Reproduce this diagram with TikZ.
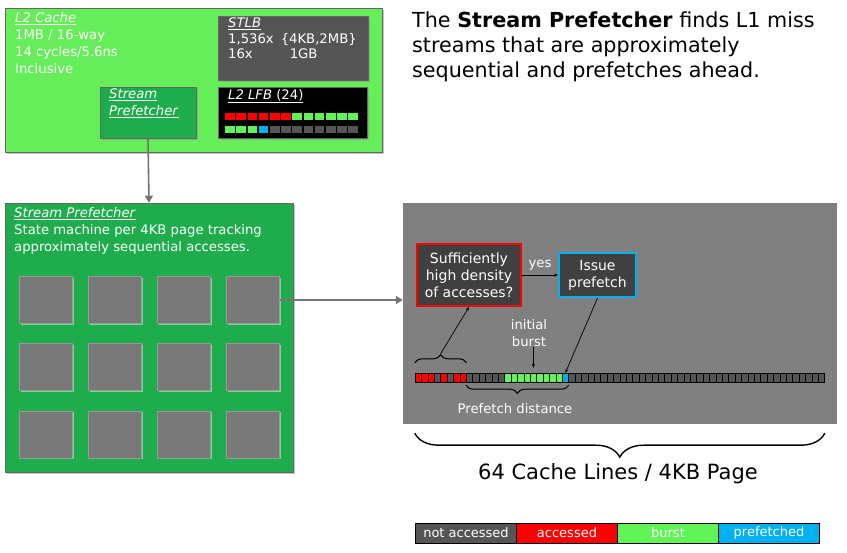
\documentclass[tikz,border=0pt]{standalone}
\usepackage{fontspec}
\setmainfont{DejaVu Sans}
\usetikzlibrary{arrows.meta,decorations.pathreplacing,shadows,calc}

\definecolor{lgreen}{RGB}{102,238,90}
\definecolor{dgreen}{RGB}{30,172,76}
\definecolor{boxgray}{RGB}{85,85,85}
\definecolor{sqgray}{RGB}{120,120,120}
\definecolor{panelgray}{RGB}{128,128,128}
\definecolor{darkbox}{RGB}{64,64,64}
\definecolor{acc}{RGB}{255,0,0}
\definecolor{burst}{RGB}{96,244,86}
\definecolor{pref}{RGB}{0,176,240}
\definecolor{notacc}{RGB}{85,85,85}

\begin{document}
\begin{tikzpicture}[
    x=1pt, y=-1pt,
    box/.style={draw=black!60, line width=0.6pt, inner sep=0pt, drop shadow={shadow xshift=2pt, shadow yshift=-2pt, fill=black!45}},
    sq/.style={draw=black!40, fill=sqgray, minimum width=53pt, minimum height=47pt, inner sep=0pt, drop shadow={shadow xshift=1.5pt, shadow yshift=-1.5pt, fill=white, opacity=.45}},
    wtxt/.style={text=white, font=\fontsize{13.2}{17}\selectfont, align=left, inner sep=0pt},
    cell/.style={draw=black, line width=0.4pt, minimum width=6.4pt, minimum height=9pt, inner sep=0pt},
    lfb/.style={minimum width=9.5pt, minimum height=7pt, inner sep=0pt},
    gar/.style={-{Triangle[length=7pt,width=8pt]}, line width=1.6pt, draw=panelgray!90!black},
    arr/.style={-{Stealth[length=4pt]}, line width=0.7pt},
    brc/.style={decorate, decoration={brace, amplitude=#1}, line width=1pt},
    leg/.style={draw=black, minimum width=101pt, minimum height=20pt, inner sep=0pt, text=white, font=\fontsize{13}{15}\selectfont}
]
\useasboundingbox[fill=white] (0,0) rectangle (847,553);

% L2 cache
\node[box, fill=lgreen, minimum width=377pt, minimum height=144pt] (l2) at (193.5,80) {};
\node[wtxt, anchor=north west] (l2txt) at (15,12) {\underline{\textit{L2 Cache}}\\1MB / 16-way\\14 cycles/5.6ns\\Inclusive};
\node[box, fill=boxgray, minimum width=150pt, minimum height=64pt] (stlb) at (293,48) {};
\node[wtxt, anchor=north west] (stlbtxt) at (228,18) {\underline{\textit{STLB}}\\
  \begin{tabular}{@{}l@{\hspace{7pt}}l@{}}1,536x & \{4KB,2MB\}\\[-2pt]16x & \hspace{9pt}1GB\end{tabular}};
\node[box, fill=dgreen, minimum width=96pt, minimum height=51pt] (spf) at (148,112.5) {};
\node[wtxt, anchor=north west] (spftxt) at (109,89) {\underline{\textit{Stream}}\\\underline{\textit{Prefetcher}}};
\node[box, fill=black, minimum width=149pt, minimum height=51pt] (lfbox) at (292.5,112.5) {};
\node[wtxt, anchor=north west] (lfbtxt) at (228,89) {\underline{\textit{L2 LFB} (24)}};
\foreach \i in {0,...,11}{
  \def\ca{acc}\ifnum\i>5 \def\ca{burst}\fi
  \def\cb{boxgray}\ifnum\i<3 \def\cb{burst}\fi\ifnum\i=3 \def\cb{pref}\fi
  \node[lfb, fill=\ca] (la\i) at ({230+11.2*\i},116.5) {};
  \node[lfb, fill=\cb] (lb\i) at ({230+11.2*\i},129.5) {};
}

% stream prefetcher
\node[box, fill=dgreen, minimum width=288pt, minimum height=269pt] (spb) at (149,337.5) {};
\node[wtxt, anchor=north west] (spbtxt) at (14,207) {\underline{\textit{Stream Prefetcher}}\\State machine per 4KB page tracking\\approximately sequential accesses.};
\foreach \r/\y in {1/300,2/367,3/434.5}
  \foreach \c/\x in {1/46,2/115,3/183.5,4/253}
    \node[sq] (sq\r\c) at (\x,\y) {};
\draw[gar] (spf.south) -- (spb.north);

% text
\node[anchor=north west, align=left, inner sep=0pt, font=\fontsize{20.7}{25}\selectfont] (intro) at (412,12)
  {The \textbf{Stream Prefetcher} finds L1 miss\\streams that are approximately\\sequential and prefetches ahead.};

% page panel
\node[fill=panelgray, draw=black!50, minimum width=433pt, minimum height=220pt] (panel) at (619.5,313) {};
\draw[gar] (sq14.east) -- (sq14.east -| panel.west);
\node[fill=darkbox, draw=acc, line width=2pt, minimum width=104pt, minimum height=62pt, inner sep=0pt, text=white, align=center, font=\fontsize{14}{17}\selectfont] (suff) at (469,275) {Sufficiently\\high density\\of accesses?};
\node[fill=darkbox, draw=pref, line width=2pt, minimum width=77pt, minimum height=44pt, inner sep=0pt, text=white, align=center, font=\fontsize{14}{17}\selectfont] (issue) at (597.5,275) {Issue\\prefetch};
\draw[arr] (suff) -- node[wtxt, above=4pt] (yes) {yes} (issue);

\foreach \i in {0,...,63}{
  \def\cc{notacc}
  \ifnum\i<8 \def\cc{acc}\fi
  \ifnum\i=3 \def\cc{notacc}\fi
  \ifnum\i=5 \def\cc{notacc}\fi
  \ifnum\i>13 \ifnum\i<23 \def\cc{burst}\fi\fi
  \ifnum\i=23 \def\cc{pref}\fi
  \node[cell, fill=\cc] (c\i) at ({418.2+6.4*\i},377.5) {};
}

\draw[brc=8pt] ($(c0.north west)+(0,-10)$) -- ($(c7.north east)+(0,-10)$);
\coordinate (dtip) at ($(c0.north west)!0.5!(c7.north east)+(0,-19)$);
\draw[arr] (dtip) -- (suff.south);
\draw[arr] (issue.south) -- (c23.north);
\node[wtxt, align=center] (burst) at (529,333) {initial\\burst};
\draw[arr, shorten >=5pt] (burst.south -| c18.north) -- (c18.north);
\draw[brc=8pt] ($(c23.south east)+(0,3)$) -- ($(c8.south west)+(0,3)$);
\node[wtxt] (pdist) at (515,409) {Prefetch distance};

% page brace
\draw[brc=24pt, line width=1.4pt] ($(c63.south east |- panel.south)+(0,10)$) -- ($(c0.south west |- panel.south)+(0,10)$);
\node[font=\fontsize{21}{25}\selectfont] (pagelbl) at (618,474) {64 Cache Lines / 4KB Page};

% legend
\node[leg, fill=notacc] (lg1) at (466,533) {not accessed};
\node[leg, fill=acc] (lg2) at (567,533) {accessed};
\node[leg, fill=burst] (lg3) at (668,533) {burst};
\node[leg, fill=pref] (lg4) at (769,533) {prefetched};
\end{tikzpicture}
\end{document}
